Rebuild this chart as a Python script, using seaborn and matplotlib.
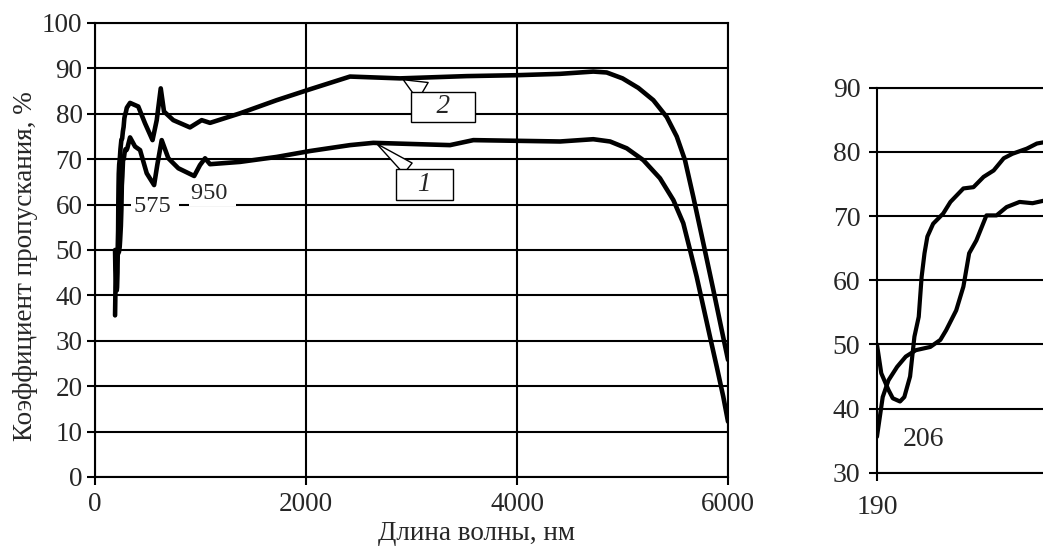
import matplotlib
matplotlib.use("Agg")
import matplotlib.pyplot as plt
import numpy as np
import seaborn as sns

# UV region (inset), nm / %
inset_wl_1 = [190, 192, 194, 198, 204, 210, 217, 227, 234, 238, 245, 250, 254,
              259, 266, 273, 280, 289, 298, 306]
inset_t_1 = [35.6, 38.7, 41.8, 44.4, 46.5, 48.1, 49.1, 49.6, 50.7, 52.2, 55.3,
             59.0, 64.2, 66.2, 70.1, 70.1, 71.4, 72.2, 72.0, 72.4]
inset_wl_2 = [190, 193, 198, 201, 206, 209, 213, 216, 219, 221, 223, 225, 229,
              236, 241, 250, 257, 264, 271, 278, 284, 294, 301, 306]
inset_t_2 = [50.0, 45.5, 42.9, 41.6, 41.1, 41.8, 45.0, 51.2, 54.3, 60.5, 64.2,
             66.8, 68.8, 70.4, 72.2, 74.3, 74.5, 76.1, 77.1, 79.0, 79.7, 80.5,
             81.3, 81.5]

# rest of the spectrum (main panel)
wl_1 = [332, 379, 427, 490, 560, 590, 632, 695, 790, 940, 995, 1043, 1090,
        1374, 1722, 2038, 2417, 2638, 3365, 3586, 4408, 4723, 4882, 5040,
        5197, 5355, 5482, 5576, 5640, 5703, 5766, 5829, 5893, 5955, 6000]
t_1 = [74.8, 72.8, 72.0, 66.9, 64.3, 68.7, 74.2, 70.2, 68.0, 66.3, 68.7, 70.2,
       68.9, 69.4, 70.5, 71.8, 73.1, 73.6, 73.1, 74.2, 73.9, 74.4, 73.9, 72.4,
       69.8, 65.8, 61.0, 55.9, 50.0, 44.1, 37.5, 30.9, 24.3, 17.7, 12.2]
wl_2 = [332, 410, 474, 545, 585, 623, 654, 742, 900, 1011, 1090, 1374, 1722,
        2038, 2417, 2891, 3523, 3997, 4408, 4723, 4850, 5000, 5150, 5292, 5419,
        5514, 5592, 5671, 5766, 5861, 5940, 6000]
t_2 = [82.4, 81.6, 77.9, 74.2, 78.6, 85.6, 80.5, 78.6, 77.0, 78.6, 78.0, 80.1,
       83.0, 85.4, 88.2, 87.8, 88.3, 88.5, 88.8, 89.3, 89.1, 87.8, 85.7, 83.0,
       79.3, 75.0, 69.8, 61.7, 51.5, 41.2, 32.4, 25.8]

main_xticks = [0, 2000, 4000, 6000]
main_yticks = list(range(0, 101, 10))
inset_yticks = list(range(30, 91, 10))
inset_xticks = [190]

sns.set_style("ticks")
plt.rcParams["font.family"] = ["Liberation Serif", "DejaVu Serif"]
plt.rcParams["axes.edgecolor"] = "black"

fig = plt.figure(figsize=(10.43, 5.54), dpi=100)
ax = fig.add_axes([0.0911, 0.139, 0.6069, 0.8195])

x1 = inset_wl_1 + wl_1
y1 = inset_t_1 + t_1
x2 = inset_wl_2 + wl_2
y2 = inset_t_2 + t_2
sns.lineplot(x=x1, y=y1, ax=ax, color="black", linewidth=3.3, zorder=3)
sns.lineplot(x=x2, y=y2, ax=ax, color="black", linewidth=3.3, zorder=3)

ax.set_xlim(0, 6000)
ax.set_ylim(0, 100)
ax.set_xticks(main_xticks)
ax.set_yticks(main_yticks)
ax.grid(True, color="black", linewidth=1.5)
ax.set_axisbelow(True)
for s in ax.spines.values():
    s.set_linewidth(1.5)
ax.tick_params(axis="both", length=6, width=1.5, labelsize=19.5, color="black")
ax.tick_params(axis="x", pad=5)
ax.tick_params(axis="y", pad=3)
ax.set_xlabel("Длина волны, нм", fontsize=19.5)
ax.set_ylabel("Коэффициент пропускания, %", fontsize=19.5)
ax.xaxis.set_label_coords(0.602, -0.098)
ax.yaxis.set_label_coords(-0.09, 0.465)

# wavelength marks
ax.text(569, 59.5, "575 ", fontsize=17.5, ha="center", va="center", zorder=4,
        bbox=dict(boxstyle="square,pad=0.1", fc="white", ec="none"))
ax.text(1115, 62.5, "950 ", fontsize=17.5, ha="center", va="center", zorder=4,
        bbox=dict(boxstyle="square,pad=0.1", fc="white", ec="none"))

# curve callouts
ax.annotate("\u2009  1  \u2009", xy=(2670, 73.4), xytext=(3123, 64.4),
            fontsize=19.5, style="italic", ha="center", va="center", zorder=5,
            bbox=dict(boxstyle="square,pad=0.12", fc="white", ec="black", lw=1),
            arrowprops=dict(arrowstyle="wedge,tail_width=0.5", fc="white",
                            ec="black", lw=1, relpos=(0.27, 1.0),
                            shrinkA=0, shrinkB=0))
ax.annotate("\u200a   2   \u200a", xy=(2922, 87.5), xytext=(3300, 81.5),
            fontsize=19.5, style="italic", ha="center", va="center", zorder=5,
            bbox=dict(boxstyle="square,pad=0.1", fc="white", ec="black", lw=1),
            arrowprops=dict(arrowstyle="wedge,tail_width=0.75", fc="white",
                            ec="black", lw=1, relpos=(0.25, 1.0),
                            shrinkA=0, shrinkB=0))

# inset with the UV edge, runs off the right edge of the figure
ax2 = fig.add_axes([0.8408, 0.1467, 0.2210, 0.6950])
sns.lineplot(x=inset_wl_1, y=inset_t_1, ax=ax2, color="black", linewidth=3.0, zorder=3)
sns.lineplot(x=inset_wl_2, y=inset_t_2, ax=ax2, color="black", linewidth=3.0, zorder=3)
ax2.set_xlim(190, 350)
ax2.set_ylim(30, 90)
ax2.set_xticks(inset_xticks)
ax2.set_yticks(inset_yticks)
ax2.grid(True, axis="y", color="black", linewidth=1.5)
ax2.set_axisbelow(True)
for s in ax2.spines.values():
    s.set_linewidth(1.5)
ax2.tick_params(axis="both", length=6, width=1.5, labelsize=20, color="black")
ax2.tick_params(axis="y", pad=6)
ax2.tick_params(axis="x", pad=10)
ax2.text(222.6, 35.2, "206", fontsize=20, ha="center", va="center")

fig.savefig("out.png", dpi=100)
